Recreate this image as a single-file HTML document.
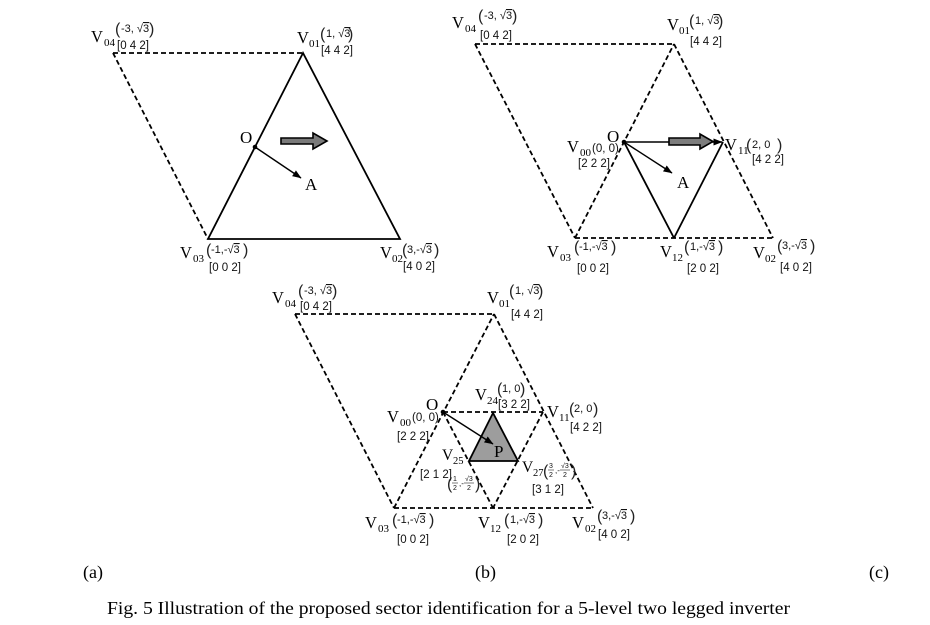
<!DOCTYPE html>
<html>
<head>
<meta charset="utf-8">
<style>
html,body{margin:0;padding:0;background:#fff;}
svg{display:block;}
.s{font-family:"Liberation Serif",serif;fill:#000;}
.a{font-family:"Liberation Sans",sans-serif;fill:#111;}
.p{font-family:"Liberation Sans",sans-serif;fill:#222;font-size:16px;}
.d{stroke:#000;stroke-width:1.8;stroke-dasharray:5,3;fill:none;}
.l{stroke:#000;stroke-width:1.8;fill:none;}
.ov{text-decoration:overline;}
</style>
</head>
<body>
<svg width="930" height="625" viewBox="0 0 930 625" xmlns="http://www.w3.org/2000/svg">
<defs>
<marker id="ah" markerWidth="9" markerHeight="7" refX="8.5" refY="3.5" orient="auto" markerUnits="userSpaceOnUse">
<path d="M0,0 L9,3.5 L0,7 z" fill="#000"/>
</marker>
</defs>
<rect width="930" height="625" fill="#fff"/>

<!-- ================= (a) ================= -->
<line class="d" x1="113" y1="53" x2="303" y2="53"/>
<line class="d" x1="113" y1="53" x2="208" y2="239"/>
<polygon class="l" points="303,53 208,239 400,239"/>
<line x1="255" y1="147" x2="301" y2="178" stroke="#000" stroke-width="1.4" marker-end="url(#ah)"/>
<circle cx="255" cy="147" r="2.3" fill="#000"/>
<polygon points="281,138 313,138 313,133 327,141 313,149 313,144 281,144" fill="#7a7a7a" stroke="#000" stroke-width="1.6"/>

<text class="s" x="240" y="143" font-size="17">O</text>
<text class="s" x="305" y="190" font-size="17">A</text>

<!-- V04 -->
<text class="s" x="91" y="42" font-size="16.5">V</text><text class="s" x="104" y="46" font-size="11">04</text>
<text class="p" x="115" y="34">(</text><text class="a" x="121" y="32" font-size="11">-3, √<tspan class="ov">3</tspan></text><text class="p" x="149" y="34">)</text>
<text class="a" x="117" y="49" font-size="11.5">[0 4 2]</text>
<!-- V01 -->
<text class="s" x="297" y="43" font-size="16.5">V</text><text class="s" x="309" y="47" font-size="11">01</text>
<text class="p" x="320" y="39">(</text><text class="a" x="326" y="37" font-size="11">1, √<tspan class="ov">3</tspan></text><text class="p" x="348" y="39">)</text>
<text class="a" x="321" y="54" font-size="11.5">[4 4 2]</text>
<!-- V03 -->
<text class="s" x="180" y="258" font-size="16.5">V</text><text class="s" x="193" y="262" font-size="11">03</text>
<text class="p" x="206" y="255">(</text><text class="a" x="211" y="253" font-size="11">-1,-√<tspan class="ov">3</tspan></text><text class="p" x="243" y="255">)</text>
<text class="a" x="209" y="271" font-size="11.5">[0 0 2]</text>
<!-- V02 -->
<text class="s" x="380" y="258" font-size="16.5">V</text><text class="s" x="392" y="262" font-size="11">02</text>
<text class="p" x="402" y="255">(</text><text class="a" x="407" y="253" font-size="11">3,-√<tspan class="ov">3</tspan></text><text class="p" x="434" y="255">)</text>
<text class="a" x="403" y="270" font-size="11.5">[4 0 2]</text>

<!-- ================= (b) ================= -->
<line class="d" x1="475" y1="44" x2="674" y2="44"/>
<line class="d" x1="475" y1="44" x2="575" y2="238"/>
<line class="d" x1="575" y1="238" x2="674" y2="44"/>
<line class="d" x1="674" y1="44" x2="773" y2="238"/>
<line class="d" x1="575" y1="238" x2="773" y2="238"/>
<line class="l" x1="624" y1="142" x2="674" y2="238"/>
<line class="l" x1="674" y1="238" x2="723" y2="142"/>
<line x1="624" y1="142" x2="722" y2="142" stroke="#000" stroke-width="1.4" marker-end="url(#ah)"/>
<line x1="624" y1="142" x2="672" y2="173" stroke="#000" stroke-width="1.4" marker-end="url(#ah)"/>
<circle cx="624" cy="142" r="2.3" fill="#000"/>
<polygon points="669,138 700,138 700,134 713,141.5 700,149 700,145 669,145" fill="#7d7d7d" stroke="#000" stroke-width="1.6"/>

<text class="s" x="607" y="142" font-size="17">O</text>
<text class="s" x="677" y="188" font-size="17">A</text>

<!-- V04 -->
<text class="s" x="452" y="28" font-size="16.5">V</text><text class="s" x="465" y="32" font-size="11">04</text>
<text class="p" x="478" y="21">(</text><text class="a" x="484" y="19" font-size="11">-3, √<tspan class="ov">3</tspan></text><text class="p" x="512" y="21">)</text>
<text class="a" x="480" y="39" font-size="11.5">[0 4 2]</text>
<!-- V01 -->
<text class="s" x="667" y="30" font-size="16.5">V</text><text class="s" x="679" y="34" font-size="11">01</text>
<text class="p" x="689" y="26">(</text><text class="a" x="695" y="24" font-size="11">1, √<tspan class="ov">3</tspan></text><text class="p" x="718" y="26">)</text>
<text class="a" x="690" y="45" font-size="11.5">[4 4 2]</text>
<!-- V00 -->
<text class="s" x="567" y="152" font-size="16.5">V</text><text class="s" x="580" y="156" font-size="11">00</text>
<text class="a" x="592" y="152" font-size="11.5">(0, 0)</text>
<text class="a" x="578" y="167" font-size="11.5">[2 2 2]</text>
<!-- V11 -->
<text class="s" x="725" y="150" font-size="16.5">V</text><text class="s" x="738" y="154" font-size="11">11</text>
<text class="p" x="746" y="150">(</text><text class="a" x="752" y="148" font-size="11">2, 0</text><text class="p" x="777" y="150">)</text>
<text class="a" x="752" y="163" font-size="11.5">[4 2 2]</text>
<!-- V03 -->
<text class="s" x="547" y="257" font-size="16.5">V</text><text class="s" x="560" y="261" font-size="11">03</text>
<text class="p" x="574" y="252">(</text><text class="a" x="579" y="250" font-size="11">-1,-√<tspan class="ov">3</tspan></text><text class="p" x="611" y="252">)</text>
<text class="a" x="577" y="272" font-size="11.5">[0 0 2]</text>
<!-- V12 -->
<text class="s" x="660" y="257" font-size="16.5">V</text><text class="s" x="672" y="261" font-size="11">12</text>
<text class="p" x="684" y="252">(</text><text class="a" x="690" y="250" font-size="11">1,-√<tspan class="ov">3</tspan></text><text class="p" x="718" y="252">)</text>
<text class="a" x="687" y="272" font-size="11.5">[2 0 2]</text>
<!-- V02 -->
<text class="s" x="753" y="258" font-size="16.5">V</text><text class="s" x="765" y="262" font-size="11">02</text>
<text class="p" x="777" y="251">(</text><text class="a" x="782" y="249" font-size="11">3,-√<tspan class="ov">3</tspan></text><text class="p" x="810" y="251">)</text>
<text class="a" x="780" y="271" font-size="11.5">[4 0 2]</text>

<!-- ================= (c) ================= -->
<line class="d" x1="295" y1="314" x2="494" y2="314"/>
<line class="d" x1="295" y1="314" x2="394" y2="508"/>
<line class="d" x1="394" y1="508" x2="494" y2="314"/>
<line class="d" x1="494" y1="314" x2="593" y2="508"/>
<line class="d" x1="394" y1="508" x2="593" y2="508"/>
<line class="d" x1="443" y1="412" x2="543" y2="412"/>
<line class="d" x1="443" y1="412" x2="493" y2="508"/>
<line class="d" x1="543" y1="412" x2="493" y2="508"/>
<polygon points="493,413 469,461 518,461" fill="#9d9d9d" stroke="#000" stroke-width="1.8"/>
<line x1="443" y1="412" x2="493" y2="444" stroke="#000" stroke-width="1.4" marker-end="url(#ah)"/>
<circle cx="443" cy="412" r="2.3" fill="#000"/>

<text class="s" x="426" y="410" font-size="17">O</text>
<text class="s" x="494" y="457" font-size="17">P</text>

<!-- V04 -->
<text class="s" x="272" y="303" font-size="16.5">V</text><text class="s" x="285" y="307" font-size="11">04</text>
<text class="p" x="298" y="296">(</text><text class="a" x="304" y="294" font-size="11">-3, √<tspan class="ov">3</tspan></text><text class="p" x="332" y="296">)</text>
<text class="a" x="300" y="310" font-size="11.5">[0 4 2]</text>
<!-- V01 -->
<text class="s" x="487" y="303" font-size="16.5">V</text><text class="s" x="499" y="307" font-size="11">01</text>
<text class="p" x="509" y="296">(</text><text class="a" x="515" y="294" font-size="11">1, √<tspan class="ov">3</tspan></text><text class="p" x="538" y="296">)</text>
<text class="a" x="511" y="318" font-size="11.5">[4 4 2]</text>
<!-- V24 -->
<text class="s" x="475" y="400" font-size="16.5">V</text><text class="s" x="487" y="404" font-size="11">24</text>
<text class="p" x="497" y="394" font-size="14">(</text><text class="a" x="502" y="392" font-size="11">1, 0</text><text class="p" x="520" y="394" font-size="14">)</text>
<text class="a" x="498" y="408" font-size="11.5">[3 2 2]</text>
<!-- V00 -->
<text class="s" x="387" y="422" font-size="16.5">V</text><text class="s" x="400" y="426" font-size="11">00</text>
<text class="a" x="412" y="421" font-size="11.5">(0, 0)</text>
<text class="a" x="397" y="440" font-size="11.5">[2 2 2]</text>
<!-- V11 -->
<text class="s" x="547" y="417" font-size="16.5">V</text><text class="s" x="559" y="421" font-size="11">11</text>
<text class="p" x="569" y="414" font-size="14">(</text><text class="a" x="574" y="412" font-size="11">2, 0</text><text class="p" x="593" y="414" font-size="14">)</text>
<text class="a" x="570" y="431" font-size="11.5">[4 2 2]</text>
<!-- V25 -->
<text class="s" x="442" y="460" font-size="15.5">V</text><text class="s" x="453" y="464" font-size="10.5">25</text>
<text class="a" x="420" y="478" font-size="11.5">[2 1 2]</text>
<text class="p" x="447" y="489" font-size="15" fill="#555">(</text>
<text class="a" x="453" y="481" font-size="7" fill="#444">1</text>
<line x1="452" y1="483" x2="458" y2="483" stroke="#444" stroke-width="0.7"/>
<text class="a" x="453" y="490" font-size="7" fill="#444">2</text>
<text class="a" x="459" y="486" font-size="8" fill="#444">,-</text>
<text class="a" x="465" y="481" font-size="7" fill="#444">√3</text>
<line x1="464" y1="483" x2="474" y2="483" stroke="#444" stroke-width="0.7"/>
<text class="a" x="467" y="490" font-size="7" fill="#444">2</text>
<text class="p" x="475" y="489" font-size="15" fill="#555">)</text>
<!-- V27 -->
<text class="s" x="522" y="472" font-size="15.5">V</text><text class="s" x="533" y="476" font-size="10.5">27</text>
<text class="p" x="543" y="476" font-size="15" fill="#555">(</text>
<text class="a" x="549" y="468" font-size="7" fill="#444">3</text>
<line x1="548" y1="470" x2="554" y2="470" stroke="#444" stroke-width="0.7"/>
<text class="a" x="549" y="477" font-size="7" fill="#444">2</text>
<text class="a" x="555" y="473" font-size="8" fill="#444">,-</text>
<text class="a" x="561" y="468" font-size="7" fill="#444">√3</text>
<line x1="560" y1="470" x2="570" y2="470" stroke="#444" stroke-width="0.7"/>
<text class="a" x="563" y="477" font-size="7" fill="#444">2</text>
<text class="p" x="571" y="476" font-size="15" fill="#555">)</text>
<text class="a" x="532" y="493" font-size="11.5">[3 1 2]</text>
<!-- V03 -->
<text class="s" x="365" y="528" font-size="16.5">V</text><text class="s" x="378" y="532" font-size="11">03</text>
<text class="p" x="392" y="525">(</text><text class="a" x="397" y="523" font-size="11">-1,-√<tspan class="ov">3</tspan></text><text class="p" x="429" y="525">)</text>
<text class="a" x="397" y="543" font-size="11.5">[0 0 2]</text>
<!-- V12 -->
<text class="s" x="478" y="528" font-size="16.5">V</text><text class="s" x="490" y="532" font-size="11">12</text>
<text class="p" x="504" y="525">(</text><text class="a" x="510" y="523" font-size="11">1,-√<tspan class="ov">3</tspan></text><text class="p" x="538" y="525">)</text>
<text class="a" x="507" y="543" font-size="11.5">[2 0 2]</text>
<!-- V02 -->
<text class="s" x="572" y="528" font-size="16.5">V</text><text class="s" x="585" y="532" font-size="11">02</text>
<text class="p" x="597" y="521">(</text><text class="a" x="602" y="519" font-size="11">3,-√<tspan class="ov">3</tspan></text><text class="p" x="630" y="521">)</text>
<text class="a" x="598" y="538" font-size="11.5">[4 0 2]</text>

<!-- ================= captions ================= -->
<text class="s" x="83" y="578" font-size="18">(a)</text>
<text class="s" x="475" y="578" font-size="18">(b)</text>
<text class="s" x="869" y="578" font-size="18">(c)</text>
<text class="s" x="107" y="614" font-size="18" textLength="683" lengthAdjust="spacingAndGlyphs">Fig. 5 Illustration of the proposed sector identification for a 5-level two legged inverter</text>
</svg>
</body>
</html>
